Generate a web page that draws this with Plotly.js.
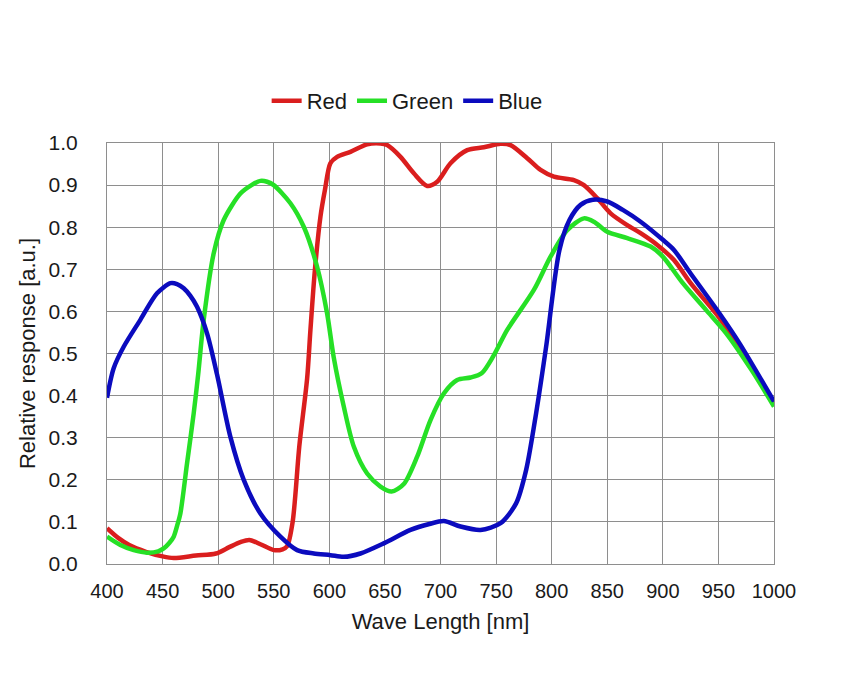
<!DOCTYPE html>
<html>
<head>
<meta charset="utf-8">
<script src="https://cdn.plot.ly/plotly-3.0.1.min.js"></script>
<style>
  html, body { margin: 0; padding: 0; background: #fff; }
  #chart { width: 844px; height: 685px; }
</style>
</head>
<body>
<div id="chart"></div>
<script>
/* Spectral response curves */

const redNm = [400, 410, 420, 435, 450, 460, 480, 498, 510, 520, 528, 538, 550, 558, 562, 567, 573, 580, 583, 587,
  592, 596, 601, 607, 619, 634, 646, 652, 664, 676, 688, 697, 709, 724, 739, 754, 763, 778, 790, 802,
  820, 829, 841, 853, 868, 880, 895, 910, 925, 951, 975, 1000];
const redVal = [0.085, 0.062, 0.045, 0.029, 0.018, 0.014, 0.020, 0.025, 0.040, 0.052, 0.057, 0.047, 0.033, 0.035, 0.042, 0.100, 0.280, 0.440, 0.556, 0.698,
  0.825, 0.888, 0.952, 0.967, 0.979, 0.997, 0.999, 0.995, 0.967, 0.928, 0.898, 0.908, 0.952, 0.983, 0.990, 0.998, 0.995, 0.964, 0.936, 0.920,
  0.912, 0.900, 0.869, 0.833, 0.805, 0.786, 0.758, 0.722, 0.667, 0.584, 0.490, 0.380];

const greenNm = [400, 412, 424, 436, 446, 451, 456, 460, 463, 466, 472, 478, 482, 487, 496, 505, 520, 530, 538, 544,
  550, 565, 577, 589, 598, 604, 613, 622, 634, 646, 656, 667, 679, 691, 703, 715, 727, 737, 748, 760,
  784, 799, 814, 829, 838, 850, 868, 889, 900, 918, 939, 957, 980, 1000];
const greenVal = [0.065, 0.045, 0.033, 0.027, 0.030, 0.037, 0.050, 0.065, 0.090, 0.120, 0.239, 0.358, 0.450, 0.580, 0.738, 0.817, 0.880, 0.900, 0.910, 0.908,
  0.900, 0.857, 0.801, 0.706, 0.595, 0.490, 0.374, 0.279, 0.215, 0.184, 0.172, 0.190, 0.255, 0.342, 0.405, 0.437, 0.443, 0.453, 0.496, 0.556,
  0.651, 0.730, 0.793, 0.821, 0.813, 0.789, 0.774, 0.754, 0.730, 0.667, 0.603, 0.548, 0.460, 0.374];

const blueNm = [400, 406, 415, 430, 445, 457, 463, 469, 475, 481, 490, 499, 511, 523, 538, 556, 571, 586, 601, 613,
  628, 649, 673, 690, 703, 718, 736, 754, 768, 777, 786, 795, 807, 816, 826, 837, 850, 864, 880, 900,
  910, 925, 951, 969, 1000];
const blueVal = [0.395, 0.465, 0.516, 0.580, 0.643, 0.667, 0.665, 0.655, 0.637, 0.611, 0.548, 0.450, 0.302, 0.200, 0.120, 0.065, 0.033, 0.025, 0.021, 0.017,
  0.025, 0.049, 0.081, 0.095, 0.102, 0.089, 0.081, 0.097, 0.144, 0.223, 0.358, 0.516, 0.746, 0.817, 0.853, 0.865, 0.861, 0.841, 0.813, 0.770,
  0.746, 0.690, 0.595, 0.524, 0.386];

const COLORS = {
  red:   '#DA1E1E',
  green: '#26E026',
  blue:  '#0B0BBE',
  grid:  '#8E8E8E',
  text:  '#1a1a1a',
};

const FONT = 'Liberation Sans, Arial, sans-serif';

function curve(name, x, y, color) {
  return {
    type: 'scatter',
    mode: 'lines',
    name: name,
    x: x,
    y: y,
    line: { color: color, width: 4.5, shape: 'spline', smoothing: 0.8 },
  };
}

const traces = [
  curve('Red',   redNm,   redVal,   COLORS.red),
  curve('Green', greenNm, greenVal, COLORS.green),
  curve('Blue',  blueNm,  blueVal,  COLORS.blue),
];

const layout = {
  width: 844,
  height: 685,
  paper_bgcolor: '#fff',
  plot_bgcolor: '#fff',
  font: { family: FONT, color: COLORS.text, size: 20 },
  margin: { t: 143, r: 70, b: 121, l: 107 },
  showlegend: true,
  legend: {
    orientation: 'h',
    x: 0.45, xanchor: 'center',
    y: 1.1, yanchor: 'middle',
    font: { size: 22 },
    bgcolor: 'rgba(0,0,0,0)',
  },
  xaxis: {
    range: [400, 1000],
    dtick: 50,
    tick0: 400,
    showgrid: true,
    gridcolor: COLORS.grid,
    gridwidth: 1,
    showline: true,
    mirror: true,
    linecolor: COLORS.grid,
    linewidth: 1,
    zeroline: false,
    ticks: '',
    ticklabelstandoff: 9,
    tickfont: { size: 20 },
    title: { text: 'Wave Length [nm]', font: { size: 22 }, standoff: 12 },
  },
  yaxis: {
    range: [0, 1],
    dtick: 0.1,
    tickformat: '.1f',
    showgrid: true,
    gridcolor: COLORS.grid,
    gridwidth: 1,
    showline: true,
    mirror: true,
    linecolor: COLORS.grid,
    linewidth: 1,
    zeroline: false,
    ticks: '',
    ticklabelstandoff: 24,
    tickfont: { size: 21 },
    title: { text: 'Relative response [a.u.]', font: { size: 22 }, standoff: 6 },
  },
};

Plotly.newPlot('chart', traces, layout, { displayModeBar: false, staticPlot: true });
</script>
</body>
</html>
